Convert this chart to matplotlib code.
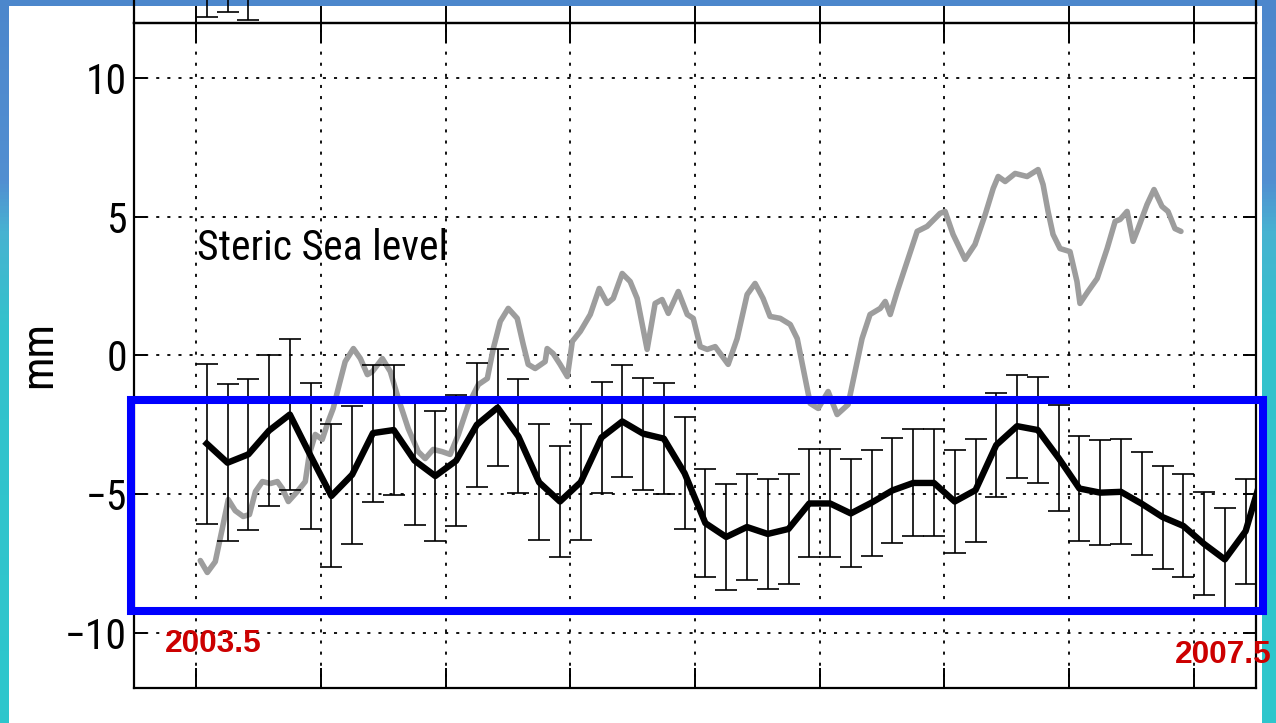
import numpy as np
import matplotlib
matplotlib.use("Agg")
import matplotlib.pyplot as plt
from matplotlib.patches import Rectangle
from matplotlib import font_manager

plt.rcParams["lines.scale_dashes"] = False
plt.rcParams["axes.unicode_minus"] = True


def pick_font(*names):
    for name in names:
        try:
            font_manager.findfont(font_manager.FontProperties(family=name),
                                  fallback_to_default=False)
            return name
        except Exception:
            continue
    return None


SANS = pick_font("Liberation Sans", "DejaVu Sans") or "DejaVu Sans"
NARROW = pick_font("Liberation Sans Narrow", "Roboto Condensed", "Arial Narrow")
if NARROW is None:
    NARROW = SANS
    LABEL_SIZE = 26
else:
    LABEL_SIZE = 30

# ---------------------------------------------------------------- data
# monthly steric sea level (mm) with 1-sigma error, starting July 2003
month_index = np.arange(52)
steric = [-3.18, -3.87, -3.57, -2.71, -2.13, -3.62, -5.07, -4.30, -2.80, -2.69,
          -3.79, -4.35, -3.80, -2.50, -1.88, -2.92, -4.58, -5.27, -4.57, -2.96,
          -2.38, -2.82, -3.00, -4.25, -6.05, -6.55, -6.19, -6.44, -6.26, -5.34,
          -5.34, -5.70, -5.31, -4.87, -4.60, -4.60, -5.27, -4.86, -3.23, -2.55,
          -2.69, -3.70, -4.80, -4.95, -4.92, -5.35, -5.83, -6.15, -6.80, -7.36,
          -6.34, -3.80]
steric_err = [2.89, 2.83, 2.71, 2.71, 2.71, 2.64, 2.58, 2.49, 2.47, 2.36,
              2.31, 2.33, 2.36, 2.24, 2.11, 2.06, 2.09, 2.02, 2.08, 2.02,
              2.02, 2.02, 1.99, 2.02, 1.95, 1.93, 1.93, 1.97, 1.97, 1.95,
              1.95, 1.95, 1.91, 1.91, 1.93, 1.93, 1.86, 1.86, 1.86, 1.86,
              1.90, 1.91, 1.88, 1.90, 1.90, 1.86, 1.86, 1.86, 1.86, 1.84,
              1.90, 1.88]

# higher-rate comparison series (grey curve)
grey_t = [2003.516, 2003.544, 2003.576, 2003.604, 2003.628, 2003.656, 2003.688, 2003.713,
          2003.737, 2003.765, 2003.797, 2003.825, 2003.845, 2003.869, 2003.905, 2003.937,
          2003.953, 2003.977, 2004.005, 2004.029, 2004.049, 2004.073, 2004.097, 2004.130,
          2004.158, 2004.186, 2004.206, 2004.246, 2004.278, 2004.310, 2004.350, 2004.390,
          2004.418, 2004.450, 2004.486, 2004.518, 2004.551, 2004.591, 2004.631, 2004.667,
          2004.691, 2004.719, 2004.751, 2004.787, 2004.811, 2004.831, 2004.859, 2004.899,
          2004.907, 2004.931, 2004.959, 2004.988, 2005.008, 2005.040, 2005.080, 2005.116,
          2005.148, 2005.172, 2005.208, 2005.240, 2005.268, 2005.308, 2005.340, 2005.368,
          2005.393, 2005.433, 2005.469, 2005.493, 2005.521, 2005.549, 2005.581, 2005.633,
          2005.669, 2005.709, 2005.741, 2005.773, 2005.801, 2005.842, 2005.882, 2005.910,
          2005.934, 2005.962, 2005.994, 2006.034, 2006.070, 2006.114, 2006.142, 2006.170,
          2006.202, 2006.243, 2006.263, 2006.283, 2006.311, 2006.351, 2006.391, 2006.431,
          2006.483, 2006.503, 2006.535, 2006.583, 2006.623, 2006.664, 2006.696, 2006.716,
          2006.744, 2006.784, 2006.832, 2006.876, 2006.896, 2006.916, 2006.936, 2006.964,
          2007.004, 2007.032, 2007.044, 2007.076, 2007.113, 2007.153, 2007.185, 2007.205,
          2007.233, 2007.257, 2007.277, 2007.313, 2007.341, 2007.373, 2007.397, 2007.425,
          2007.449]
grey_v = [-7.40, -7.83, -7.44, -6.25, -5.20, -5.60, -5.81, -5.74,
          -4.91, -4.55, -4.62, -4.55, -4.80, -5.27, -4.91, -4.55,
          -3.57, -2.85, -3.03, -2.38, -1.91, -1.05, -0.22, 0.25,
          -0.11, -0.69, -0.58, -0.11, -0.58, -1.55, -2.64, -3.47,
          -3.72, -3.39, -3.47, -3.57, -2.85, -1.77, -1.05, -0.83,
          0.25, 1.23, 1.70, 1.34, 0.40, -0.32, -0.47, -0.22,
          0.25, 0.07, -0.32, -0.76, 0.51, 0.87, 1.48, 2.42,
          1.88, 2.06, 2.96, 2.67, 2.06, 0.22, 1.88, 2.02,
          1.52, 2.31, 1.48, 1.34, 0.32, 0.22, 0.32, -0.32,
          0.61, 2.20, 2.60, 2.06, 1.41, 1.34, 1.12, 0.61,
          -0.47, -1.73, -1.91, -1.30, -2.13, -1.77, -0.58, 0.61,
          1.48, 1.70, 1.95, 1.48, 2.31, 3.39, 4.48, 4.66,
          5.13, 5.20, 4.37, 3.47, 4.01, 5.09, 6.03, 6.46,
          6.28, 6.57, 6.46, 6.71, 6.17, 5.20, 4.37, 3.86,
          3.75, 2.67, 1.88, 2.31, 2.78, 3.86, 4.84, 4.91,
          5.20, 4.12, 4.58, 5.45, 5.99, 5.38, 5.20, 4.58,
          4.48]

# lower tails of the error bars of the panel above
upper_vals = [-8.6, -8.2, -8.9]
upper_err = [3.2, 3.4, 3.0]

x_ticks = [2003.5, 2004.0, 2004.5, 2005.0, 2005.5, 2006.0, 2006.5, 2007.0, 2007.5]
y_ticks = [-10, -5, 0, 5, 10]
title_text = "Steric Sea level"
y_label = "mm"
start_label = "2003.5"
end_label = "2007.5"

months = 2003.0 + (6.5 + month_index) / 12.0

# ---------------------------------------------------------------- figure
W, H = 1276, 723
fig = plt.figure(figsize=(W / 100, H / 100), dpi=100)


def fx(px):
    return px / W


def fy(py):
    return 1.0 - py / H


# ocean-coloured backdrop behind the white page
bg = fig.add_axes([0, 0, 1, 1], zorder=-10)
bg.axis("off")
rows = np.linspace(0, 1, 200)
stops = [0.0, 0.25, 0.32, 0.45, 1.0]
r = np.interp(rows, stops, [0.30, 0.32, 0.28, 0.20, 0.18])
g = np.interp(rows, stops, [0.53, 0.56, 0.70, 0.76, 0.78])
b = np.interp(rows, stops, [0.80, 0.82, 0.82, 0.80, 0.80])
grad = np.stack([r, g, b], axis=-1)[:, None, :]
bg.imshow(grad, aspect="auto", extent=[0, 1, 0, 1], origin="upper")
bg.set_xlim(0, 1)
bg.set_ylim(0, 1)

fig.add_artist(Rectangle((fx(9), 0), fx(1262) - fx(9), fy(6),
                         transform=fig.transFigure, facecolor="white",
                         edgecolor="none", zorder=-5))

# ---------------------------------------------------------------- main axes
ax = fig.add_axes([fx(134), fy(688), fx(1256) - fx(134), fy(23) - fy(688)])
ax.set_xlim(2003.25, 2007.75)
ax.set_ylim(-12, 12)

ax.grid(True, color="black", linestyle=(0, (2.2, 5.8)), linewidth=1.3)
ax.set_xticks(x_ticks)
ax.set_xticklabels([])
ax.set_yticks(y_ticks)
ax.tick_params(axis="x", direction="in", length=14.4, width=1.4,
               top=True, bottom=True, labelbottom=False)
ax.tick_params(axis="y", direction="in", length=9.4, width=1.4,
               left=True, right=True, labelsize=LABEL_SIZE, pad=5)
for lab in ax.get_yticklabels():
    lab.set_family(NARROW)
for sp in ax.spines.values():
    sp.set_linewidth(1.6)

ax.plot(grey_t, grey_v, color="#9d9d9d", lw=4.0, zorder=2.5,
        solid_joinstyle="round", solid_capstyle="round")
ax.errorbar(months, steric, yerr=steric_err, fmt="none", ecolor="black",
            elinewidth=1.2, capsize=7.9, capthick=1.2, zorder=3)
ax.plot(months, steric, color="black", lw=4.6, zorder=4,
        solid_joinstyle="round")

ax.text(2003.503, 3.45, title_text, fontsize=LABEL_SIZE, family=NARROW,
        ha="left", va="baseline", zorder=5)

# ---------------------------------------------------------------- panel above
ax_up = fig.add_axes([fx(134), fy(23), fx(1256) - fx(134), 665 / H])
ax_up.set_xlim(2003.25, 2007.75)
ax_up.set_ylim(-12, 12)
ax_up.patch.set_visible(False)
ax_up.set_xticks(x_ticks)
ax_up.set_xticklabels([])
ax_up.set_yticks([])
ax_up.tick_params(axis="x", direction="in", length=12, width=1.4,
                  top=False, bottom=True, labelbottom=False)
for sp in ax_up.spines.values():
    sp.set_linewidth(1.6)
ax_up.errorbar(months[:3], upper_vals, yerr=upper_err, fmt="none",
               ecolor="black", elinewidth=1.2, capsize=7.9, capthick=1.2)

# ---------------------------------------------------------------- annotations
fig.text(fx(39), fy(355), y_label, rotation=90, fontsize=LABEL_SIZE + 2,
         family=NARROW, ha="center", va="center")

fig.add_artist(Rectangle((fx(131), fy(611)), fx(1263) - fx(131), fy(400) - fy(611),
                         transform=fig.transFigure, fill=False,
                         edgecolor="#0000ff", linewidth=5.8, zorder=20))

fig.text(fx(213), fy(652), start_label, color="#cc0000", fontsize=22.8,
         fontweight="bold", family=SANS, ha="center", va="baseline", zorder=21)
fig.text(fx(1223), fy(663), end_label, color="#cc0000", fontsize=22.8,
         fontweight="bold", family=SANS, ha="center", va="baseline", zorder=21)

fig.savefig("out.png", dpi=100)
